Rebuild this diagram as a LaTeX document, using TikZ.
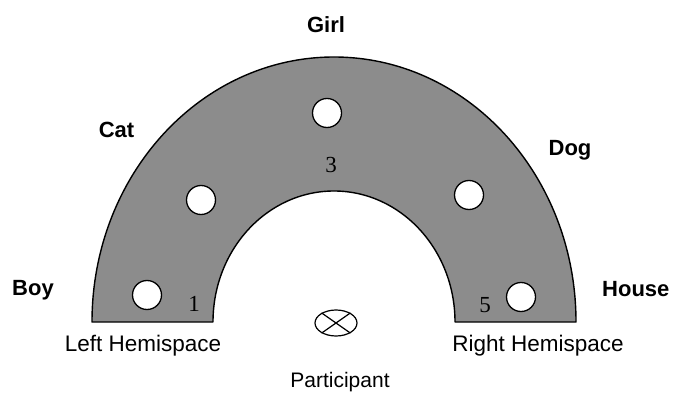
\documentclass[tikz,border=0pt]{standalone}
\usepackage{fontspec}
\setmainfont{Liberation Sans}
\newfontfamily\numfont{Liberation Serif}
\usetikzlibrary{shapes.geometric}
\definecolor{bandgray}{RGB}{140,140,140}
\tikzset{
  hole/.style={circle, draw=black, fill=white, line width=1.3pt, minimum size=29pt, inner sep=0pt},
  boldlabel/.style={font=\fontsize{22}{26}\selectfont\bfseries, inner sep=0pt, anchor=base},
  sidelabel/.style={font=\fontsize{22.5}{27}\selectfont, inner sep=0pt, anchor=base},
  numlabel/.style={font=\numfont\fontsize{23}{27}\selectfont, inner sep=0pt, anchor=base},
  participant/.style={ellipse, draw=black, line width=1.2pt, minimum width=42pt, minimum height=26pt, inner sep=0pt}
}
\begin{document}
\begin{tikzpicture}[x=1pt,y=1pt]
\useasboundingbox (0,0) rectangle (674,394);
\clip (0,0) rectangle (674,394);
% band
\draw[fill=bandgray, line width=1.4pt, line join=round]
  (92,72) arc[start angle=180, end angle=0, x radius=242pt, y radius=265pt]
  -- (455,72) arc[start angle=0, end angle=180, x radius=121pt, y radius=131pt]
  -- cycle;
% holes
\node[hole] (hboy) at (147,99) {};
\node[hole] (hcat) at (201,194) {};
\node[hole] (hgirl) at (327,281) {};
\node[hole] (hdog) at (469,199) {};
\node[hole] (hhouse) at (521,97) {};
% numbers
\node[numlabel] (n1) at (194,83) {1};
\node[numlabel] (n3) at (331,221) {3};
\node[numlabel] (n5) at (485,82) {5};
% word labels
\node[boldlabel] (girl) at (326,361) {Girl};
\node[boldlabel] (cat) at (116.5,256) {Cat};
\node[boldlabel] (dog) at (570,238) {Dog};
\node[boldlabel] (boy) at (33,99) {Boy};
\node[boldlabel, anchor=base west] (house) at (602,98) {House};
\node[sidelabel] (left) at (143,43) {Left Hemispace};
\node[sidelabel] (right) at (538,43) {Right Hemispace};
% participant
\node[participant] (p) at (336,71) {};
\draw[line width=1.2pt] (p.35) -- (p.215);
\draw[line width=1.2pt] (p.145) -- (p.325);
\node[sidelabel, font=\fontsize{21}{25}\selectfont] (plabel) at (340,7) {Participant};
\end{tikzpicture}
\end{document}
